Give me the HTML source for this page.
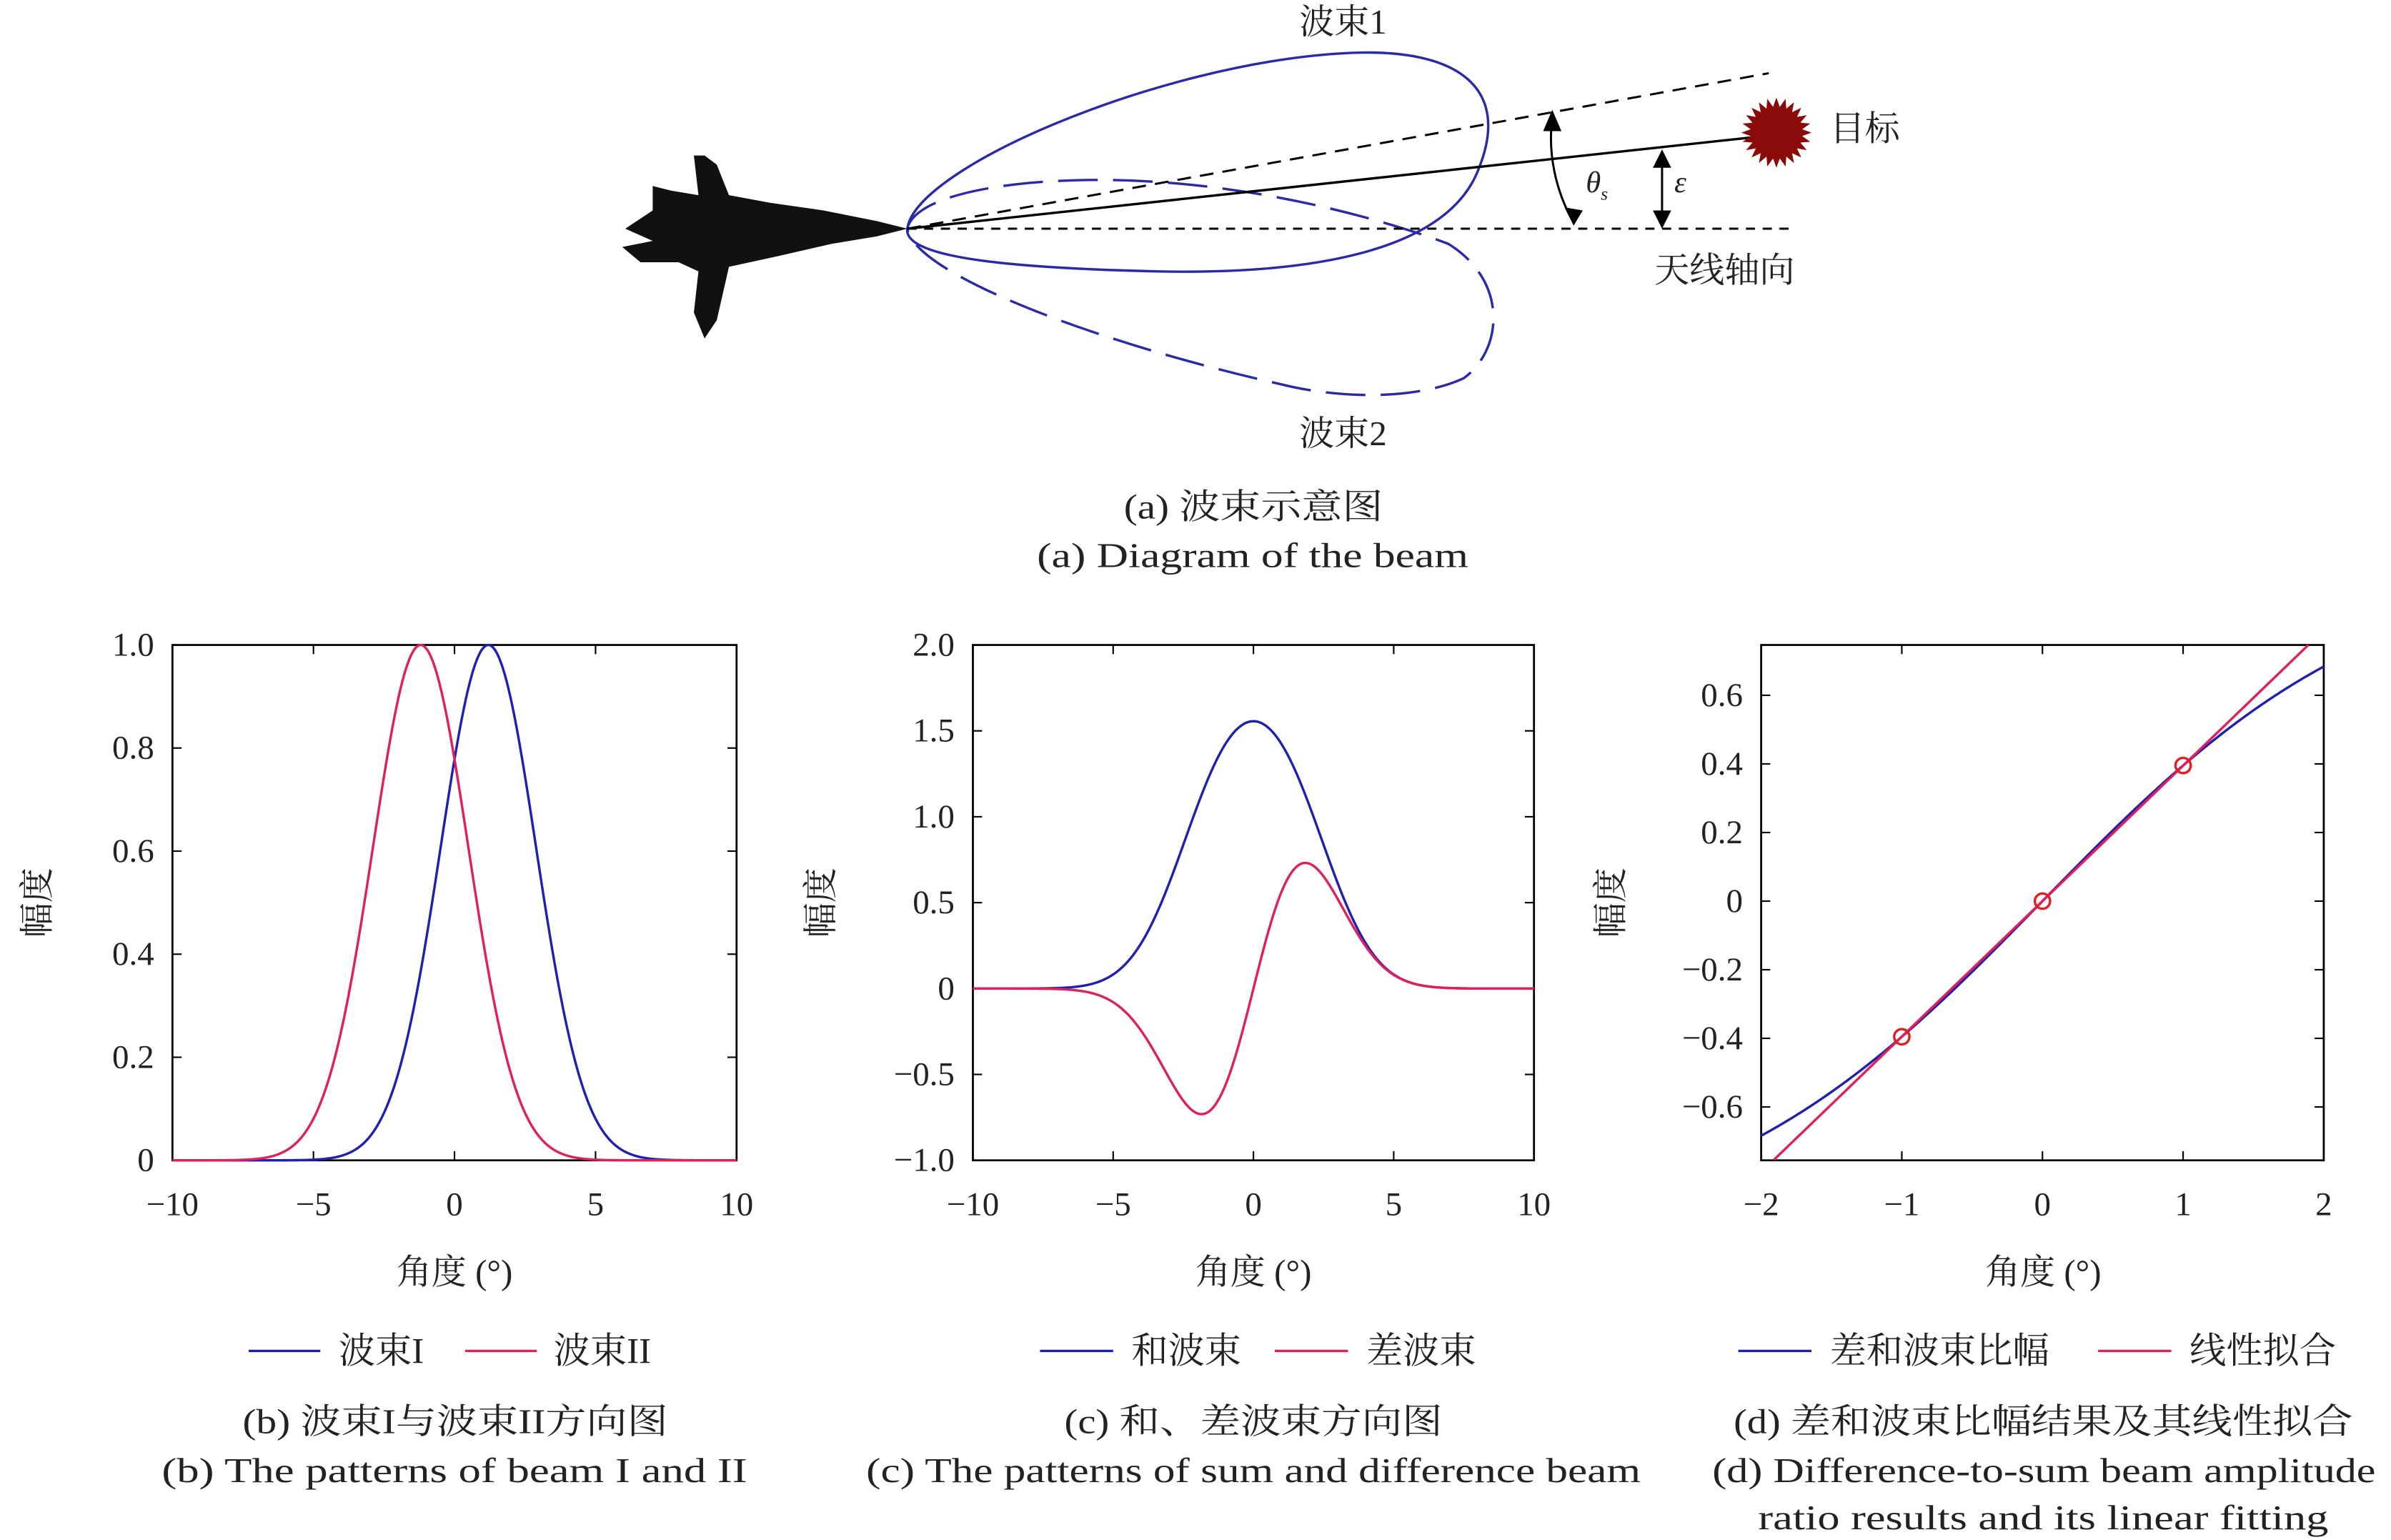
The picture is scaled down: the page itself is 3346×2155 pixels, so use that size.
<!DOCTYPE html>
<html><head><meta charset="utf-8"><style>
html,body{margin:0;padding:0;background:#fff}
svg{display:block}
text{font-family:"Liberation Serif","Noto Serif CJK SC",serif;fill:#222}
</style></head><body>
<svg id="s" width="3346" height="2155" viewBox="0 0 1568 1010" xmlns="http://www.w3.org/2000/svg">
<g>
<path d="M595,150 L575,145 L540,138 L505,133 L478,128 L470,108 L462,102 L455,102 L458,128 L440,125 L428,122 L428,138 L410,150 L428,158 L408,162 L420,172 L445,172 L458,178 L455,205 L462,222 L470,210 L478,175 L510,168 L545,160 L575,155 Z" fill="#111"/>
<path d="M595,150 C600,110 760,42 880,35 C960,30 990,60 970,110 C950,165 860,180 760,178 C670,176 592,170 595,150 Z" fill="none" stroke="#2a2aa8" stroke-width="1.6"/>
<path d="M595,150 C600,128 660,118 720,118 C820,118 910,145 950,160 C990,185 985,230 960,248 C930,262 880,262 840,252 C720,225 600,180 595,150 Z" fill="none" stroke="#2a2aa8" stroke-width="1.6" stroke-dasharray="26,10"/>
<line x1="595" y1="150" x2="1150" y2="90" stroke="#000" stroke-width="1.6"/>
<line x1="595" y1="150" x2="1160" y2="48" stroke="#000" stroke-width="1.4" stroke-dasharray="9,6"/>
<line x1="595" y1="150" x2="1175" y2="150" stroke="#000" stroke-width="1.4" stroke-dasharray="6,5"/>
<path d="M1032,146 C1020,125 1015,100 1018,78" fill="none" stroke="#000" stroke-width="1.4"/>
<path d="M1018,72 L1012,86 L1024,86 Z" fill="#000"/><path d="M1032,148 L1026,136 L1038,138 Z" fill="#000"/>
<line x1="1090" y1="104" x2="1090" y2="144" stroke="#000" stroke-width="1.4"/>
<path d="M1090,98 L1084,110 L1096,110 Z" fill="#000"/><path d="M1090,150 L1084,138 L1096,138 Z" fill="#000"/>
<polygon id="star" fill="#8b0a0a"/>
<text x="1040" y="126" font-size="20" font-style="italic">θ<tspan font-size="12" dy="5">s</tspan></text>
<text x="1098" y="126" font-size="20" font-style="italic">ε</text>
<text x="1200" y="92" font-size="23">目标</text>
<text x="1085" y="185" font-size="23">天线轴向</text>
<text x="852" y="22" font-size="23">波束1</text>
<text x="852" y="292" font-size="23">波束2</text>
<text x="737" y="340" font-size="23" textLength="170" lengthAdjust="spacingAndGlyphs">(a) 波束示意图</text>
<text x="680" y="372" font-size="23" textLength="283" lengthAdjust="spacingAndGlyphs">(a) Diagram of the beam</text>
</g>
<g id="plots"></g>
</svg>
<script>
var NS="http://www.w3.org/2000/svg",P=document.getElementById('plots');
function el(t,a,txt){var e=document.createElementNS(NS,t);for(var k in a)e.setAttribute(k,a[k]);if(txt!=null)e.textContent=txt;P.appendChild(e);return e;}
var pts=[];for(var i=0;i<48;i++){var r=i%2?17:23,a=i*Math.PI/24;pts.push((1165+r*Math.cos(a)).toFixed(1)+","+(87+r*Math.sin(a)).toFixed(1));}
document.getElementById('star').setAttribute('points',pts.join(' '));
var c=1.2,s2=2.87;
function g1(x){return Math.exp(-(x-c)*(x-c)/(2*s2));}
function g2(x){return Math.exp(-(x+c)*(x+c)/(2*s2));}
function plot(X0,X1,Y0,Y1,xmin,xmax,ymin,ymax,xt,yt,fmt){
 el('rect',{x:X0,y:Y0,width:X1-X0,height:Y1-Y0,fill:'none',stroke:'#000','stroke-width':1.3});
 var fx=function(x){return X0+(x-xmin)/(xmax-xmin)*(X1-X0)},fy=function(y){return Y1-(y-ymin)/(ymax-ymin)*(Y1-Y0)};
 xt.forEach(function(v){var X=fx(v);el('line',{x1:X,y1:Y1,x2:X,y2:Y1-6,stroke:'#000'});el('line',{x1:X,y1:Y0,x2:X,y2:Y0+6,stroke:'#000'});el('text',{x:X,y:Y1+36,'font-size':22,'text-anchor':'middle'},v<0?'\u2212'+(-v):''+v);});
 yt.forEach(function(v){var Y=fy(v);el('line',{x1:X0,y1:Y,x2:X0+6,y2:Y,stroke:'#000'});el('line',{x1:X1,y1:Y,x2:X1-6,y2:Y,stroke:'#000'});el('text',{x:X0-12,y:Y+7,'font-size':22,'text-anchor':'end'},fmt(v));});
 return {fx:fx,fy:fy};
}
function curve(A,f,a,b,col){var d='';for(var i=0;i<=400;i++){var x=a+(b-a)*i/400;d+=(i?'L':'M')+A.fx(x).toFixed(2)+','+A.fy(f(x)).toFixed(2);}el('path',{d:d,fill:'none',stroke:col,'stroke-width':1.6});}
var B='#2020b0',R='#e0205a';
function f1(v){return v==0?'0':v.toFixed(1).replace('-','\u2212');}
var A=plot(113,483,423,761,-10,10,0,1,[-10,-5,0,5,10],[0,0.2,0.4,0.6,0.8,1.0],f1);
curve(A,g1,-10,10,B);curve(A,g2,-10,10,R);
var C=plot(638,1006,423,761,-10,10,-1,2,[-10,-5,0,5,10],[-1,-0.5,0,0.5,1,1.5,2],f1);
curve(C,function(x){return g1(x)+g2(x)},-10,10,B);curve(C,function(x){return g1(x)-g2(x)},-10,10,R);
var D=plot(1155,1524,423,761,-2,2,-0.7556,0.7467,[-2,-1,0,1,2],[-0.6,-0.4,-0.2,0,0.2,0.4,0.6],f1);
curve(D,function(x){return Math.tanh(c*x/s2)},-2,2,B);curve(D,function(x){return 0.395*x},-1.91,1.89,R);
[-1,0,1].forEach(function(x){el('circle',{cx:D.fx(x),cy:D.fy(Math.tanh(c*x/s2)),r:5,fill:'none',stroke:'#e02020','stroke-width':1.6});});
[[298,32],[822,546],[1340,1064]].forEach(function(p){el('text',{x:p[0],y:842,'font-size':23,'text-anchor':'middle'},'角度 (°)');el('text',{x:p[1],y:592,'font-size':23,'text-anchor':'middle',transform:'rotate(-90 '+p[1]+' 592)'},'幅度');});
function leg(x1,x2,col,tx,txt){el('line',{x1:x1,y1:886,x2:x2,y2:886,stroke:col,'stroke-width':1.6});el('text',{x:tx,y:894,'font-size':24},txt);}
leg(163,210,B,222,'波束I');leg(305,352,R,363,'波束II');
leg(682,730,B,742,'和波束');leg(836,884,R,896,'差波束');
leg(1140,1188,B,1200,'差和波束比幅');leg(1376,1424,R,1436,'线性拟合');
function cap(x1,x2,y,t){el('text',{x:x1,y:y,'font-size':23,textLength:x2-x1,lengthAdjust:'spacingAndGlyphs'},t);}
cap(159,438,940,'(b) 波束I与波束II方向图');cap(106,490,972,'(b) The patterns of beam I and II');
cap(698,946,940,'(c) 和、差波束方向图');cap(568,1076,972,'(c) The patterns of sum and difference beam');
cap(1137,1543,940,'(d) 差和波束比幅结果及其线性拟合');cap(1123,1558,972,'(d) Difference-to-sum beam amplitude');cap(1153,1527,1003,'ratio results and its linear fitting');
</script>
</body></html>
